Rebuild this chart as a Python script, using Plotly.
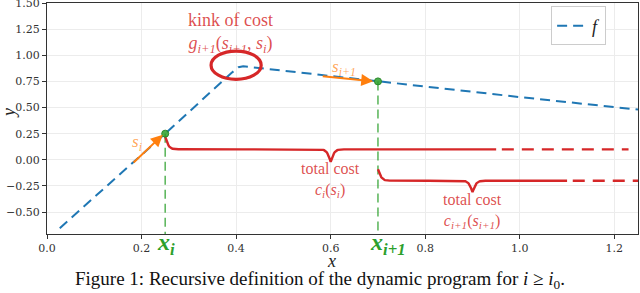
import numpy as np
import plotly.graph_objects as go

# ---- data ----
f_x = [0.027, 0.25, 0.39, 0.405, 0.415, 0.45, 0.70, 1.0, 1.25]
f_y = [-0.654, 0.25, 0.83, 0.885, 0.895, 0.877, 0.75, 0.60, 0.48]

point_x = [0.25, 0.70]          # x_i, x_{i+1}
point_y = [0.25, 0.75]          # f(x_i), f(x_{i+1})
point_labels = ["<b><i>x<sub>i</sub></i></b>", "<b><i>x<sub>i+1</sub></i></b>"]

cost_level = [0.10, -0.20]       # c_i(s_i), c_{i+1}(s_{i+1})
brace_start = [0.25, 0.70]
brace_end = [0.95, 1.10]
dash_end = [1.23, 1.25]
brace_amp = [0.12, 0.11]
cost_text = ["total cost<br><i>c<sub>i</sub></i>(<i>s<sub>i</sub></i>)",
             "total cost<br><i>c<sub>i+1</sub></i>(<i>s<sub>i+1</sub></i>)"]

arrow_start = [(0.18, -0.04), (0.58, 0.80)]
arrow_end = [(0.245, 0.24), (0.69, 0.752)]
arrow_text = ["<i>s<sub>i</sub></i>", "<i>s<sub>i+1</sub></i>"]

kink_center = (0.40, 0.905)

XR = [0.0, 1.25]
YR = [-0.71, 1.5]

RED = "#d62728"
RED_T = "rgba(214,39,40,0.82)"
ORANGE = "#ff7f0e"
ORANGE_T = "rgba(255,127,14,0.7)"
GREEN = "#2ca02c"
BLUE = "#1f77b4"
FONT = "Liberation Serif"
TFONT = "DejaVu Serif"

fig = go.Figure()

fig.add_trace(go.Scatter(x=f_x, y=f_y, mode="lines", name="<i>f</i>",
                         line=dict(color=BLUE, width=2, dash="10px,6px")))

# green vertical dashed lines
for px, py in zip(point_x, point_y):
    fig.add_trace(go.Scatter(x=[px, px], y=[py, YR[0]], mode="lines", showlegend=False,
                             line=dict(color="rgba(44,160,44,0.75)", width=1.6, dash="9px,5px")))


def brace(x0, x1, level, amp, beta=240.0, n=401):
    xs = np.linspace(x0, x1, n)
    xc = 0.5 * (x0 + x1)
    half = np.abs(xs - xc)
    d_end = np.where(xs < xc, xs - x0, 1.0)   # only the left end curls up
    h = 1 / (1 + np.exp(-beta * d_end)) + 1 / (1 + np.exp(beta * half))
    ys = level - 2 * amp * (h - 1.0)
    return xs, ys


for i in range(2):
    bx, by = brace(brace_start[i], brace_end[i], cost_level[i], brace_amp[i])
    fig.add_trace(go.Scatter(x=bx, y=by, mode="lines", showlegend=False,
                             line=dict(color=RED, width=2.4)))
    fig.add_trace(go.Scatter(x=[brace_end[i] + 0.012, dash_end[i]], y=[cost_level[i]] * 2,
                             mode="lines", showlegend=False,
                             line=dict(color=RED, width=2.4, dash="12px,8px")))
    fig.add_annotation(x=0.5 * (brace_start[i] + brace_end[i]), y=cost_level[i] - 0.29,
                       text=cost_text[i], showarrow=False, align="center",
                       font=dict(family=FONT, size=16, color=RED_T))

fig.add_trace(go.Scatter(x=point_x, y=point_y, mode="markers", showlegend=False,
                         marker=dict(color="rgba(44,160,44,0.85)", size=7,
                                     line=dict(color="#2a8a2a", width=1))))

for (sx, sy), (ex, ey), t in zip(arrow_start, arrow_end, arrow_text):
    fig.add_annotation(x=ex, y=ey, ax=sx, ay=sy, xref="x", yref="y", axref="x", ayref="y",
                       showarrow=True, arrowhead=2, arrowsize=1.2, arrowwidth=2,
                       arrowcolor=ORANGE, text="")
fig.add_annotation(x=0.19, y=0.16, text=arrow_text[0], showarrow=False,
                   font=dict(family=FONT, size=17, color=ORANGE_T))
fig.add_annotation(x=0.628, y=0.88, text=arrow_text[1], showarrow=False,
                   font=dict(family=FONT, size=17, color=ORANGE_T))

# kink ellipse
cx, cy = kink_center
fig.add_shape(type="circle", xref="x", yref="y", x0=cx - 0.053, x1=cx + 0.053,
              y0=cy - 0.135, y1=cy + 0.135, line=dict(color=RED, width=3.2))
fig.add_annotation(x=0.389, y=1.215,
                   text="kink of cost<br><i>g<sub>i+1</sub></i>(<i>s<sub>i+1</sub></i>, <i>s<sub>i</sub></i>)",
                   showarrow=False, align="center",
                   font=dict(family=FONT, size=18, color=RED_T))

# x_i labels below axis (paper y)
for px, lab, xs in zip(point_x, point_labels, [1, 10]):
    fig.add_annotation(x=px, y=(234 - 244) / 231, yref="paper", yanchor="middle",
                       xanchor="center", text=lab, showarrow=False,
                       xshift=xs, font=dict(family=FONT, size=24, color=GREEN))

# axis titles and caption
fig.add_annotation(x=(332 - 47) / 592, y=(234 - 261) / 231, xref="paper", yref="paper",
                   xanchor="center", yanchor="middle",
                   text="<i>x</i>", showarrow=False,
                   font=dict(family=FONT, size=18, color="#222"))
fig.add_annotation(x=(9 - 47) / 592, y=(234 - 113) / 231, xref="paper", yref="paper",
                   xanchor="center", yanchor="middle",
                   text="<i>y</i>", textangle=-90, showarrow=False,
                   font=dict(family=FONT, size=18, color="#222"))
fig.add_annotation(x=(320 - 47) / 592, y=(234 - 280) / 231, xref="paper", yref="paper",
                   xanchor="center", yanchor="middle",
                   text="Figure 1: Recursive definition of the dynamic program for <i>i</i> ≥ <i>i</i><sub>0</sub>.",
                   showarrow=False, font=dict(family=FONT, size=19, color="#111"))

axis_common = dict(showline=True, linecolor="#333", linewidth=1.3, mirror=True,
                   showgrid=True, gridcolor="#ececec", gridwidth=1, zeroline=False,
                   ticks="outside", ticklen=4, tickcolor="#333", automargin=False,
                   ticklabeloverflow="allow",
                   tickfont=dict(family=TFONT, size=11, color="#333"))

fig.update_xaxes(range=XR, tickvals=[0.0, 0.2, 0.4, 0.6, 0.8, 1.0, 1.2], tickformat=".1f",
                 **axis_common)
fig.update_yaxes(range=YR, tickvals=[-0.5, -0.25, 0.0, 0.25, 0.5, 0.75, 1.0, 1.25, 1.5],
                 tickformat=".2f", **axis_common)

fig.update_layout(
    width=640, height=293,
    margin=dict(l=47, r=2, t=3, b=59, autoexpand=False),
    plot_bgcolor="white", paper_bgcolor="white",
    legend=dict(x=0.853, y=0.985, xanchor="left", yanchor="top",
                bordercolor="#cccccc", borderwidth=1, bgcolor="white",
                font=dict(family=FONT, size=18, color="#222")),
    showlegend=True,
)

fig.write_html("out.html", config={"displayModeBar": False},
               post_script="document.body.style.margin='0';document.body.style.overflow='hidden';")
